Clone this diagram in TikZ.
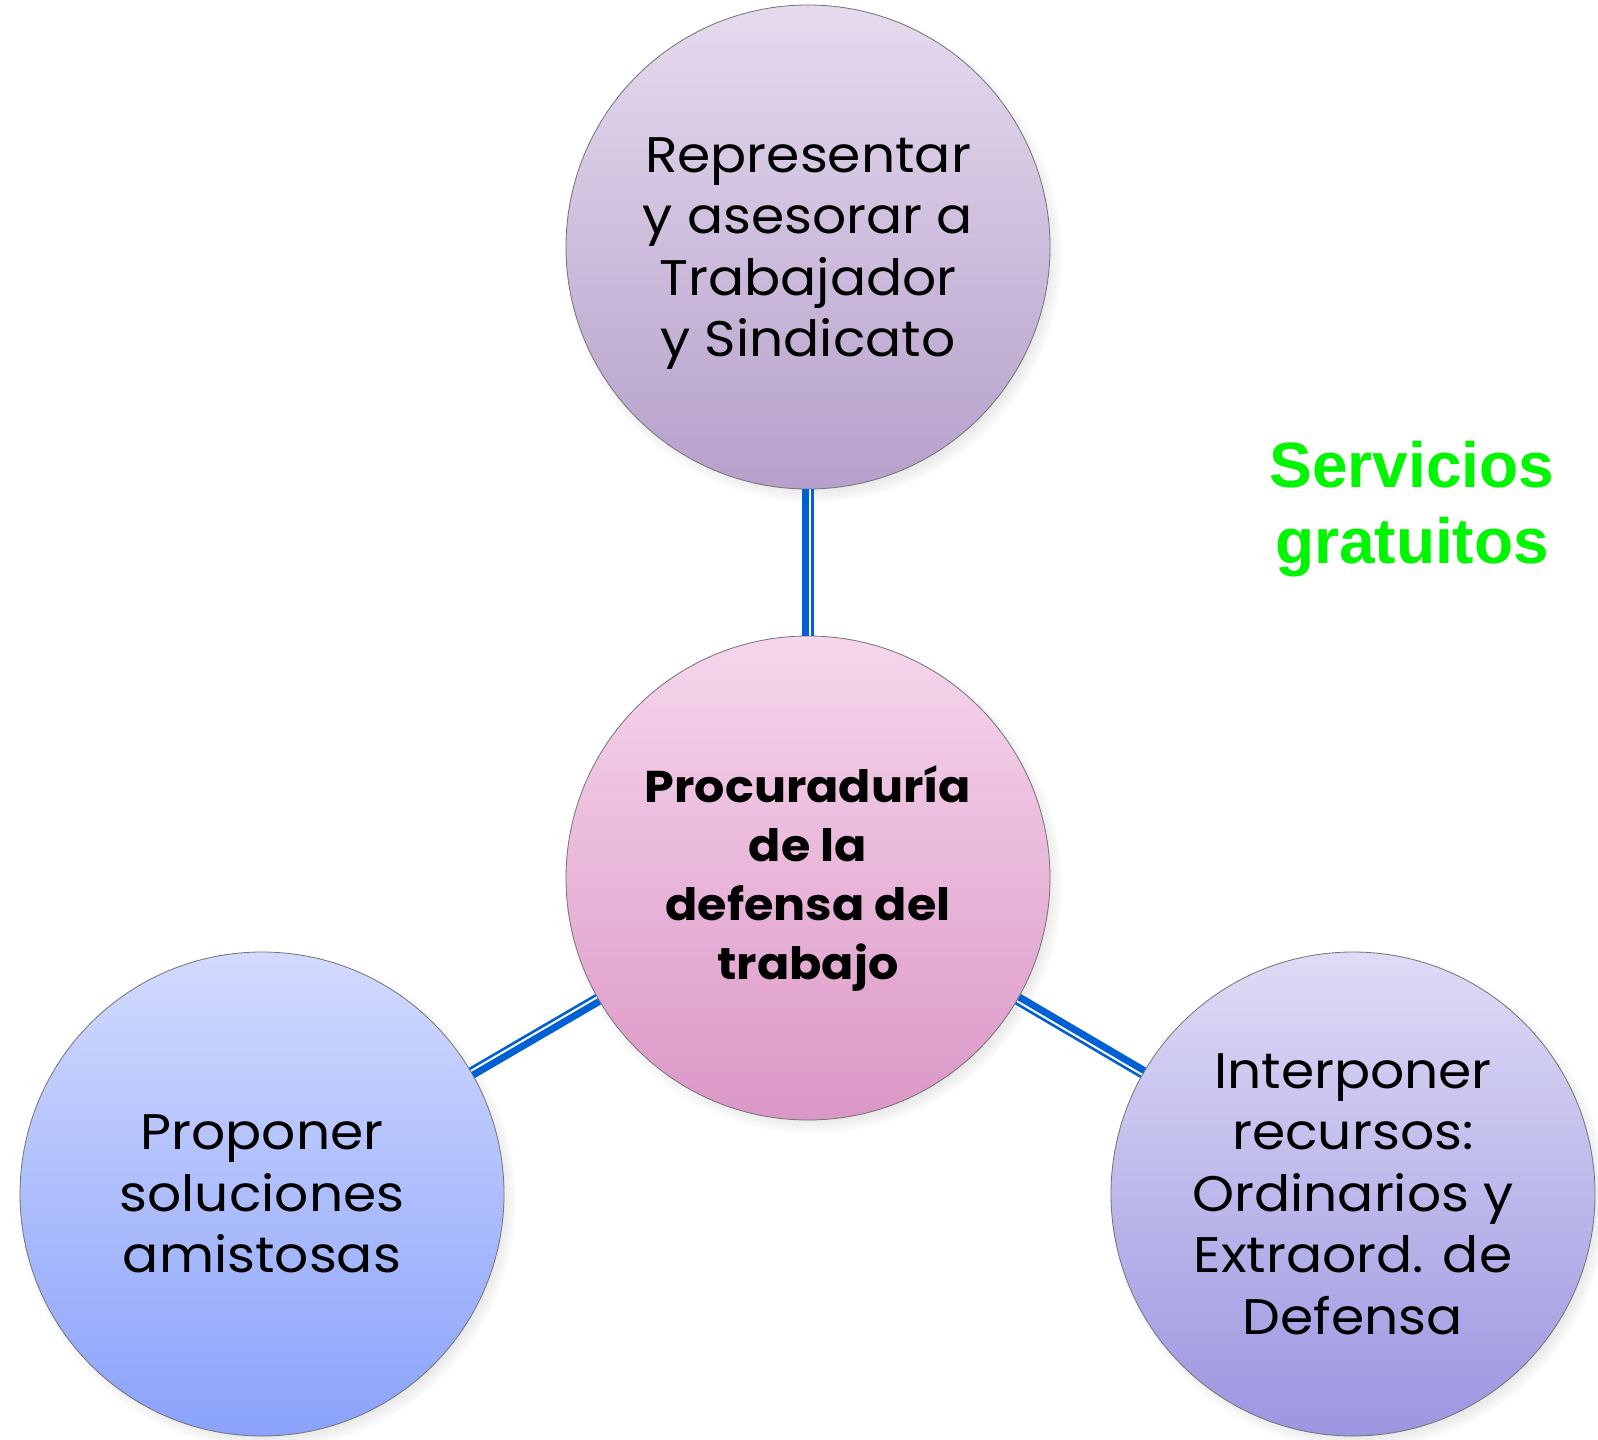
\documentclass[tikz,border=0pt]{standalone}
\usepackage{fontspec}
\usepackage{tikz}
\usetikzlibrary{positioning,shapes,calc,shadows,fadings}
\newfontfamily\circfont[FakeStretch=1.07]{Poppins}
\newfontfamily\arialfont{Liberation Sans}
\definecolor{linkblue}{HTML}{0060D4}
\definecolor{freegreen}{HTML}{00F500}
\definecolor{topA}{HTML}{E6DAEE}
\definecolor{topB}{HTML}{B5A0CB}
\definecolor{midA}{HTML}{F6D6EC}
\definecolor{midB}{HTML}{DB97C6}
\definecolor{leftA}{HTML}{D2DAFE}
\definecolor{leftB}{HTML}{8AA2FB}
\definecolor{rightA}{HTML}{DEDBF6}
\definecolor{rightB}{HTML}{9B96E0}
\pgfdeclareradialshading{bgglow}{\pgfpoint{0bp}{0bp}}{color(0bp)=(white); color(36bp)=(white); color(72bp)=(black!14)}
% thick-thin blue link between two circle borders
\newcommand{\connect}[4]{%
  \draw[linkthick] ($(#1.#2)!2.5pt!90:(#3.#4)$) -- ($(#3.#4)!2.5pt!-90:(#1.#2)$);
  \draw[linkthin] ($(#1.#2)!4.6pt!-90:(#3.#4)$) -- ($(#3.#4)!4.6pt!90:(#1.#2)$);
}

\begin{document}
\begin{tikzpicture}[x=1pt, y=-1pt,
      ball/.style={circle, draw=black!55, line width=0.8pt, minimum size=484pt, inner sep=0pt, align=center,
        font=\circfont\fontsize{50}{61.5}\selectfont,
        circular drop shadow={shadow xshift=5pt, shadow yshift=-6pt, shadow scale=1.03, opacity=0.35, fill=black!60}},
      linkthick/.style={draw=linkblue, line width=7pt},
      linkthin/.style={draw=linkblue, line width=2.6pt}
      ]
      \shade[shading=bgglow] (0,0) rectangle (1598,1440);
      \useasboundingbox (0,0) rectangle (1598,1440);

      \node[ball, top color=topA, bottom color=topB, text depth=0pt] (REP) at (808,247) {Representar\\y asesorar a\\Trabajador\\y Sindicato};
      \node[ball, top color=midA, bottom color=midB, font=\circfont\bfseries\fontsize{44.5}{59}\selectfont] (PRO) at (808,878) {Procuraduría\\de la\\defensa del\\trabajo};
      \node[ball, top color=leftA, bottom color=leftB] (SOL) at (262,1194) {Proponer\\soluciones\\amistosas};
      \node[ball, top color=rightA, bottom color=rightB] (REC) at (1353,1194) {Interponer\\recursos:\\Ordinarios y\\Extraord. de\\Defensa};

      \connect{PRO}{90}{REP}{270}
      \connect{PRO}{210}{SOL}{30}
      \connect{PRO}{330}{REC}{150}

      \node[font=\arialfont\bfseries\fontsize{64}{76}\selectfont, text=freegreen, align=center] (FREE) at (1412,509) {Servicios\\gratuitos};
    \end{tikzpicture}
\end{document}
